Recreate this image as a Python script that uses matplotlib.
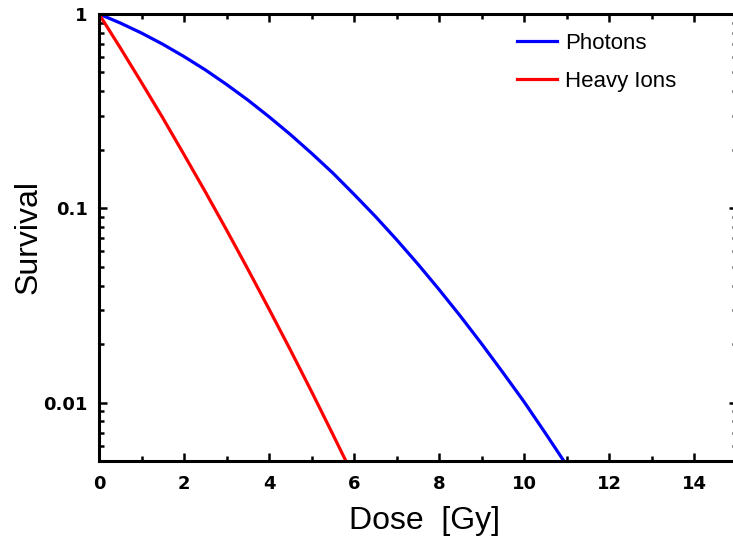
import matplotlib
matplotlib.use("Agg")
import matplotlib.pyplot as plt
from matplotlib.ticker import MultipleLocator, LogLocator, FuncFormatter, NullFormatter

# cell survival vs dose, read at 0.5 Gy steps
dose_photons = [0, 0.5, 1, 1.5, 2, 2.5, 3, 3.5, 4, 4.5, 5, 5.5, 6, 6.5, 7, 7.5,
                8, 8.5, 9, 9.5, 10, 10.5, 11]
surv_photons = [1.0, 0.899, 0.798, 0.699, 0.604, 0.516, 0.434, 0.361, 0.296, 0.240,
                0.192, 0.152, 0.118, 0.0909, 0.0690, 0.0517, 0.0382, 0.0279, 0.0201,
                0.0143, 0.0101, 0.00697, 0.00477]

dose_ions = [0, 0.5, 1, 1.5, 2, 2.5, 3, 3.5, 4, 4.5, 5, 5.5, 6]
surv_ions = [1.0, 0.670, 0.444, 0.292, 0.189, 0.1217, 0.0774, 0.0487, 0.0303,
             0.0187, 0.0114, 0.00687, 0.00411]

W, H = 733, 541
fig = plt.figure(figsize=(W / 100, H / 100), dpi=100)
ax = fig.add_axes([99 / W, 1 - 461 / H, (736.5 - 99) / W, (461 - 14) / H])

ax.plot(dose_photons, surv_photons, color="#0000ff", lw=2.3, label="Photons")
ax.plot(dose_ions, surv_ions, color="#ff0000", lw=2.3, label="Heavy Ions")

ax.set_yscale("log")
ax.set_xlim(0, 15)
ax.set_ylim(0.005, 1)

ax.xaxis.set_major_locator(MultipleLocator(2))
ax.xaxis.set_minor_locator(MultipleLocator(1))
ax.yaxis.set_major_locator(LogLocator(base=10))
ax.yaxis.set_minor_locator(LogLocator(base=10, subs=range(2, 10)))
ax.yaxis.set_major_formatter(FuncFormatter(lambda v, _: f"{v:g}"))
ax.yaxis.set_minor_formatter(NullFormatter())

for s in ax.spines.values():
    s.set_linewidth(2.2)
ax.tick_params(which="both", direction="in", top=True, right=True, width=1.8)
ax.tick_params(which="major", length=6)
ax.tick_params(which="minor", length=3.5)
ax.tick_params(axis="x", which="major", pad=10)
ax.tick_params(axis="y", which="major", pad=8)
for lab in ax.get_xticklabels() + ax.get_yticklabels():
    lab.set_fontfamily("DejaVu Sans")
    lab.set_fontweight("bold")
    lab.set_fontsize(13)

ax.set_xlabel("Dose  [Gy]", fontsize=23, family="Liberation Sans")
ax.set_ylabel("Survival", fontsize=23, family="Liberation Sans", labelpad=0)
ax.xaxis.set_label_coords(0.51, -0.10)

leg = ax.legend(loc="upper left", bbox_to_anchor=(517 / W, 1 - 33 / H),
                bbox_transform=fig.transFigure, frameon=False,
                prop={"family": "Liberation Sans", "size": 16},
                handlelength=1.8, handletextpad=0.35, labelspacing=0.75,
                borderpad=0, borderaxespad=0)

fig.savefig("out.png", dpi=100)
